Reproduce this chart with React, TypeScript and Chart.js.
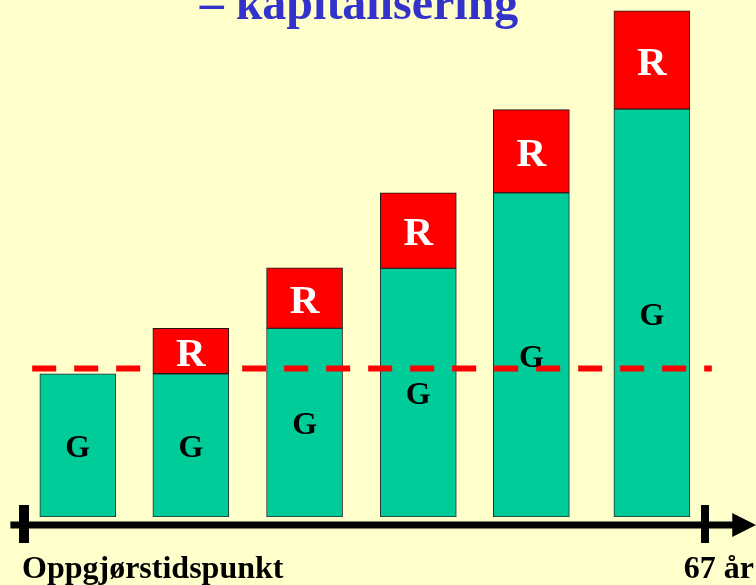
import React, { useEffect, useRef } from 'react';
import { Chart, registerables } from 'chart.js';

Chart.register(...registerables);

// ---- data ----
const titleText = '– kapitalisering';
const timePositions = [0.79, 2.45, 4.12, 5.79, 7.45, 9.22];
const gValues = [27.7, 27.7, 36.5, 48.1, 62.7, 78.9];
const rValues: (number | null)[] = [null, 8.8, 11.7, 14.6, 16.1, 19.0];
const segmentLabels = ['G', 'R'];
const referenceLevel = 28.7;
const referenceSpan = [0.12, 10.1];
const axisLabels = ['Oppgjørstidspunkt', '67 år'];
const axisTicks = [0, 10];

const SERIF = '"Liberation Serif", "Times New Roman", serif';

const decorPlugin = {
  id: 'decor',
  beforeDraw(chart: any) {
    const { ctx, width, height } = chart;
    ctx.save();
    ctx.fillStyle = '#FFFFCC';
    ctx.fillRect(0, 0, width, height);
    ctx.restore();
  },
  afterDatasetsDraw(chart: any) {
    const { ctx } = chart;
    ctx.save();
    [0, 1].forEach((di) => {
      const meta = chart.getDatasetMeta(di);
      const ds = chart.data.datasets[di];
      const size = di === 0 ? 32 : 41;
      ctx.font = `bold ${size}px ${SERIF}`;
      ctx.fillStyle = di === 0 ? '#000000' : '#FFFFFF';
      ctx.textAlign = 'center';
      ctx.textBaseline = 'alphabetic';
      meta.data.forEach((el: any, i: number) => {
        const v = ds.data[i].y;
        if (v == null) return;
        const { x, y, base } = el.getProps(['x', 'y', 'base'], true);
        const cy = (y + base) / 2;
        ctx.fillText(segmentLabels[di], x, cy + (0.662 * size) / 2 + 1);
      });
    });
    ctx.restore();
  },
  afterDraw(chart: any) {
    const { ctx, chartArea, width } = chart;
    const xs = chart.scales.x;
    const axisY = chartArea.bottom + 8;
    ctx.save();
    // axis line
    ctx.strokeStyle = '#000000';
    ctx.lineWidth = 7;
    ctx.beginPath();
    ctx.moveTo(xs.getPixelForValue(-0.2), axisY);
    ctx.lineTo(xs.getPixelForValue(10.45), axisY);
    ctx.stroke();
    // arrow head
    ctx.fillStyle = '#000000';
    ctx.beginPath();
    ctx.moveTo(xs.getPixelForValue(10.4), axisY - 12);
    ctx.lineTo(width, axisY);
    ctx.lineTo(xs.getPixelForValue(10.4), axisY + 12);
    ctx.closePath();
    ctx.fill();
    // ticks
    axisTicks.forEach((t, i) => {
      ctx.lineWidth = i === 0 ? 10 : 8;
      const px = xs.getPixelForValue(t);
      ctx.beginPath();
      ctx.moveTo(px, axisY - 20);
      ctx.lineTo(px, axisY + 18);
      ctx.stroke();
    });
    // axis labels
    ctx.font = `bold 32px ${SERIF}`;
    ctx.fillStyle = '#000000';
    ctx.textBaseline = 'alphabetic';
    ctx.textAlign = 'left';
    ctx.fillText(axisLabels[0], xs.getPixelForValue(axisTicks[0]) - 2, axisY + 53);
    ctx.textAlign = 'right';
    ctx.fillText(axisLabels[1], width - 2, axisY + 53);
    // title
    ctx.font = `bold 48px ${SERIF}`;
    ctx.fillStyle = '#3333CC';
    ctx.textAlign = 'center';
    ctx.fillText(titleText, 359, 19);
    ctx.restore();
  },
};

export default function App() {
  const canvasRef = useRef<HTMLCanvasElement | null>(null);

  useEffect(() => {
    const canvas = canvasRef.current;
    if (!canvas) return;
    const chart = new Chart(canvas, {
      type: 'bar',
      data: {
        datasets: [
          {
            type: 'bar',
            label: 'G',
            data: timePositions.map((x, i) => ({ x, y: gValues[i] })),
            backgroundColor: '#00CC99',
            borderColor: '#2b2b2b',
            borderWidth: 1,
            borderSkipped: false,
            barThickness: 76,
            stack: 'bars',
            order: 1,
          },
          {
            type: 'bar',
            label: 'R',
            data: timePositions.map((x, i) => ({ x, y: rValues[i] })),
            backgroundColor: '#FF0000',
            borderColor: '#1a1a1a',
            borderWidth: 1,
            borderSkipped: false,
            barThickness: 76,
            stack: 'bars',
            order: 2,
          },
          {
            type: 'line',
            label: 'ref',
            data: referenceSpan.map((x) => ({ x, y: referenceLevel })),
            borderColor: '#FF0000',
            borderWidth: 6,
            borderDash: [24, 18],
            borderCapStyle: 'butt',
            pointRadius: 0,
            fill: false,
            clip: false,
            stack: 'ref',
            order: 0,
          } as any,
        ],
      },
      options: {
        animation: false,
        responsive: false,
        devicePixelRatio: 1,
        layout: { padding: { left: 24, right: 51, top: 0, bottom: 68 } },
        plugins: {
          legend: { display: false },
          tooltip: { enabled: false },
          title: { display: false },
        },
        scales: {
          x: { type: 'linear', min: 0, max: 10, display: false, stacked: true, offset: false, grid: { offset: false } },
          y: { type: 'linear', min: 0, max: 100, display: false, stacked: true },
        },
      },
      plugins: [decorPlugin],
    } as any);
    return () => chart.destroy();
  }, []);

  return (
    <div style={{ position: 'fixed', left: 0, top: 0, width: 756, height: 585 }}>
      <canvas ref={canvasRef} width={756} height={585} style={{ display: 'block' }} />
    </div>
  );
}
